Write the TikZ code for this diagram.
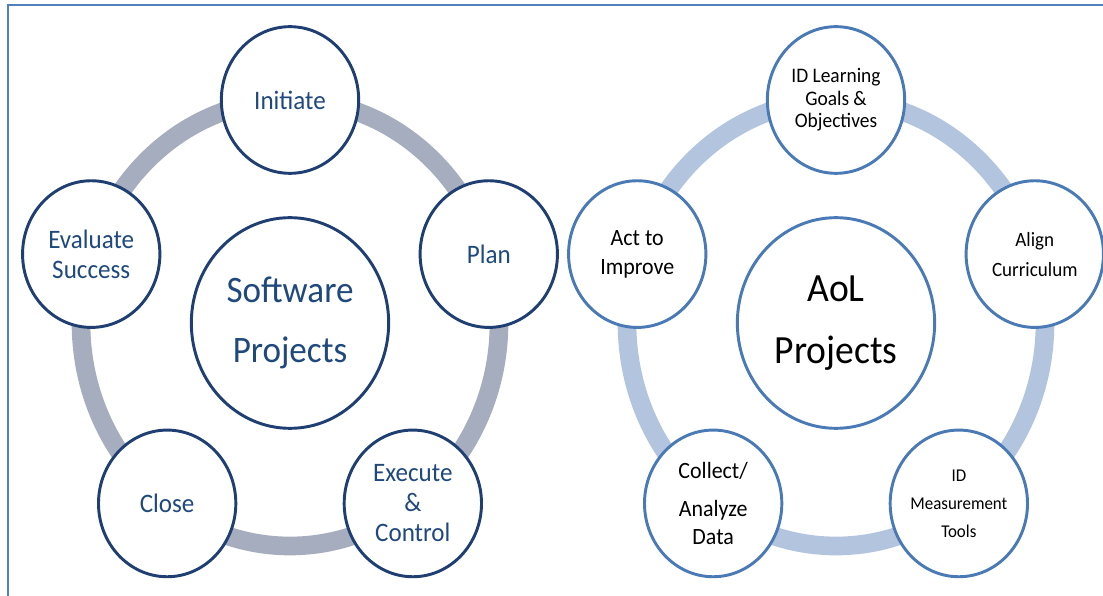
\documentclass[tikz,border=0pt]{standalone}
\usepackage{fontspec}
\setmainfont{Carlito}[FakeStretch=0.94]
\usetikzlibrary{calc}
\usetikzlibrary{shapes.geometric}
\definecolor{swLine}{HTML}{1F3F72}
\definecolor{swText}{HTML}{1F497D}
\definecolor{swRing}{HTML}{A6ADBE}
\definecolor{aolLine}{HTML}{4A7AB6}
\definecolor{aolRing}{HTML}{B3C4DF}
\definecolor{frameCol}{HTML}{4F81BD}
\tikzset{
  stage/.style={ellipse,draw,fill=white,line width=2.2pt,inner sep=0pt,align=center,
    minimum width=103pt,minimum height=110pt},
  hub/.style={stage,minimum width=148pt,minimum height=158pt},
  ring/.style={line width=14pt},
}

\begin{document}
\begin{tikzpicture}[x=0.75pt,y=0.75pt]
  \def\rx{209} % ring radius, x
  \def\ry{223} % ring radius, y
  \useasboundingbox (0,0) rectangle (1103,596);
  \draw[frameCol,line width=1.5pt] (1110,591) -| (8,-5);

  % software projects cycle
  \coordinate (sw) at (290,273);
  \draw[ring,swRing] (sw) ellipse [x radius=\rx,y radius=\ry];
  \node[hub,draw=swLine,text=swText,font=\fontsize{28}{45}\selectfont] (swhub) at (sw) {Software\\Projects};
  \foreach \a/\n/\t in {90/init/Initiate,18/plan/Plan,-54/exec/{Execute\\\&\\Control},
                        -126/close/Close,162/eval/{Evaluate\\Success}}
    \node[stage,draw=swLine,text=swText,font=\fontsize{20}{22.5}\selectfont] (\n) at ($(sw)+(\a:{\rx} and {\ry})$) {\t};

  % AoL cycle
  \coordinate (aol) at (836,273);
  \draw[ring,aolRing] (aol) ellipse [x radius=\rx,y radius=\ry];
  \node[hub,draw=aolLine,font=\fontsize{30}{46.5}\selectfont] (aolhub) at (aol) {AoL\\Projects};
  \node[stage,draw=aolLine,font=\fontsize{15.5}{17}\selectfont] (goals) at ($(aol)+(90:{\rx} and {\ry})$) {ID Learning\\Goals \&\\Objectives};
  \node[stage,draw=aolLine,font=\fontsize{15.2}{22.5}\selectfont] (align) at ($(aol)+(18:{\rx} and {\ry})$) {Align\\Curriculum};
  \node[stage,draw=aolLine,font=\fontsize{13.5}{21}\selectfont] (tools) at ($(aol)+(-54:{\rx} and {\ry})$) {ID\\Measurement\\Tools};
  \node[stage,draw=aolLine,font=\fontsize{17.5}{21}\selectfont] (data) at ($(aol)+(-126:{\rx} and {\ry})$) {Collect/\\[8pt]Analyze\\Data};
  \node[stage,draw=aolLine,font=\fontsize{17.5}{22}\selectfont] (act) at ($(aol)+(162:{\rx} and {\ry})$) {Act to\\Improve};
\end{tikzpicture}
\end{document}
